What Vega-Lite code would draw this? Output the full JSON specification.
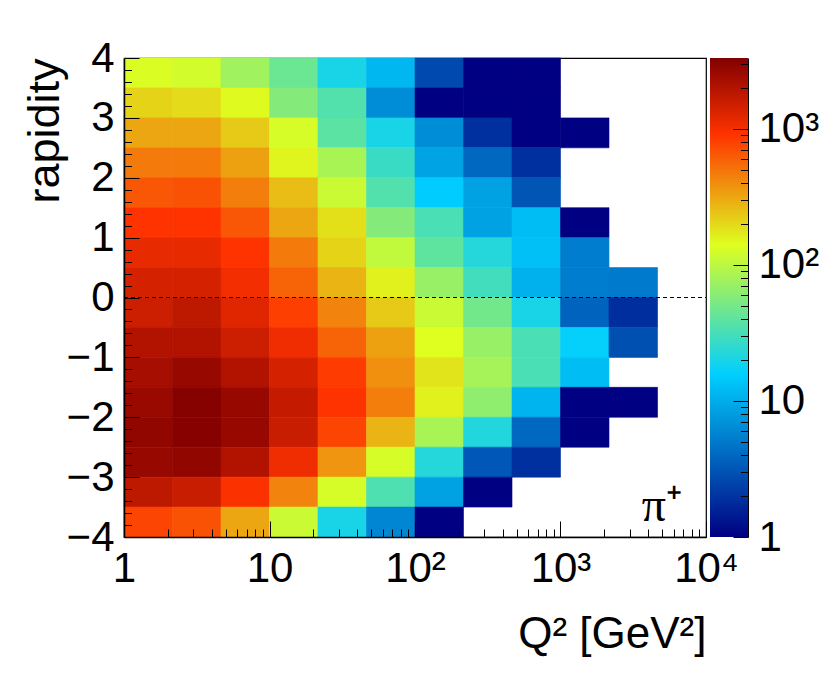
{
  "$schema": "https://vega.github.io/schema/vega-lite/v6.json",
  "background": "white",
  "autosize": "none",
  "padding": {"left": 124, "top": 58, "right": 706, "bottom": 630},
  "bounds": "flush",
  "spacing": 4,
  "config": {
    "font": "Liberation Sans",
    "axis": {"grid": false, "labelFontSize": 42, "titleFontWeight": "normal", "labelColor": "black", "titleColor": "black", "tickColor": "black", "domainColor": "black", "labelBound": false, "labelFlush": false}
  },
  "datasets": {
    "cells": [
      {"x0":1,"x1":2.154,"y0":3.5,"y1":4,"v":135},{"x0":2.154,"x1":4.642,"y0":3.5,"y1":4,"v":124},{"x0":4.642,"x1":10,"y0":3.5,"y1":4,"v":76},{"x0":10,"x1":21.54,"y0":3.5,"y1":4,"v":45},{"x0":21.54,"x1":46.42,"y0":3.5,"y1":4,"v":20},{"x0":46.42,"x1":100,"y0":3.5,"y1":4,"v":11.4},{"x0":100,"x1":215.4,"y0":3.5,"y1":4,"v":2.65},{"x0":215.4,"x1":464.2,"y0":3.5,"y1":4,"v":1},{"x0":464.2,"x1":1000,"y0":3.5,"y1":4,"v":1},
      {"x0":1,"x1":2.154,"y0":3,"y1":3.5,"v":210},{"x0":2.154,"x1":4.642,"y0":3,"y1":3.5,"v":194},{"x0":4.642,"x1":10,"y0":3,"y1":3.5,"v":146},{"x0":10,"x1":21.54,"y0":3,"y1":3.5,"v":57.5},{"x0":21.54,"x1":46.42,"y0":3,"y1":3.5,"v":35.4},{"x0":46.42,"x1":100,"y0":3,"y1":3.5,"v":6.5},{"x0":100,"x1":215.4,"y0":3,"y1":3.5,"v":1},{"x0":215.4,"x1":464.2,"y0":3,"y1":3.5,"v":1},{"x0":464.2,"x1":1000,"y0":3,"y1":3.5,"v":1},
      {"x0":1,"x1":2.154,"y0":2.5,"y1":3,"v":316},{"x0":2.154,"x1":4.642,"y0":2.5,"y1":3,"v":316},{"x0":4.642,"x1":10,"y0":2.5,"y1":3,"v":228},{"x0":10,"x1":21.54,"y0":2.5,"y1":3,"v":130},{"x0":21.54,"x1":46.42,"y0":2.5,"y1":3,"v":38.4},{"x0":46.42,"x1":100,"y0":2.5,"y1":3,"v":20},{"x0":100,"x1":215.4,"y0":2.5,"y1":3,"v":6.5},{"x0":215.4,"x1":464.2,"y0":2.5,"y1":3,"v":1.9},{"x0":464.2,"x1":1000,"y0":2.5,"y1":3,"v":1},{"x0":1000,"x1":2154,"y0":2.5,"y1":3,"v":1},
      {"x0":1,"x1":2.154,"y0":2,"y1":2.5,"v":474},{"x0":2.154,"x1":4.642,"y0":2,"y1":2.5,"v":474},{"x0":4.642,"x1":10,"y0":2,"y1":2.5,"v":330},{"x0":10,"x1":21.54,"y0":2,"y1":2.5,"v":153},{"x0":21.54,"x1":46.42,"y0":2,"y1":2.5,"v":83},{"x0":46.42,"x1":100,"y0":2,"y1":2.5,"v":27.7},{"x0":100,"x1":215.4,"y0":2,"y1":2.5,"v":8.9},{"x0":215.4,"x1":464.2,"y0":2,"y1":2.5,"v":4},{"x0":464.2,"x1":1000,"y0":2,"y1":2.5,"v":1.9},
      {"x0":1,"x1":2.154,"y0":1.5,"y1":2,"v":655},{"x0":2.154,"x1":4.642,"y0":1.5,"y1":2,"v":680},{"x0":4.642,"x1":10,"y0":1.5,"y1":2,"v":455},{"x0":10,"x1":21.54,"y0":1.5,"y1":2,"v":257},{"x0":21.54,"x1":46.42,"y0":1.5,"y1":2,"v":114},{"x0":46.42,"x1":100,"y0":1.5,"y1":2,"v":35.4},{"x0":100,"x1":215.4,"y0":1.5,"y1":2,"v":15},{"x0":215.4,"x1":464.2,"y0":1.5,"y1":2,"v":8.6},{"x0":464.2,"x1":1000,"y0":1.5,"y1":2,"v":3.1},
      {"x0":1,"x1":2.154,"y0":1,"y1":1.5,"v":904},{"x0":2.154,"x1":4.642,"y0":1,"y1":1.5,"v":904},{"x0":4.642,"x1":10,"y0":1,"y1":1.5,"v":655},{"x0":10,"x1":21.54,"y0":1,"y1":1.5,"v":316},{"x0":21.54,"x1":46.42,"y0":1,"y1":1.5,"v":186},{"x0":46.42,"x1":100,"y0":1,"y1":1.5,"v":57.5},{"x0":100,"x1":215.4,"y0":1,"y1":1.5,"v":32.6},{"x0":215.4,"x1":464.2,"y0":1,"y1":1.5,"v":8.6},{"x0":464.2,"x1":1000,"y0":1,"y1":1.5,"v":12.3},{"x0":1000,"x1":2154,"y0":1,"y1":1.5,"v":1},
      {"x0":1,"x1":2.154,"y0":0.5,"y1":1,"v":1150},{"x0":2.154,"x1":4.642,"y0":0.5,"y1":1,"v":1150},{"x0":4.642,"x1":10,"y0":0.5,"y1":1,"v":904},{"x0":10,"x1":21.54,"y0":0.5,"y1":1,"v":474},{"x0":21.54,"x1":46.42,"y0":0.5,"y1":1,"v":210},{"x0":46.42,"x1":100,"y0":0.5,"y1":1,"v":105},{"x0":100,"x1":215.4,"y0":0.5,"y1":1,"v":40},{"x0":215.4,"x1":464.2,"y0":0.5,"y1":1,"v":22.6},{"x0":464.2,"x1":1000,"y0":0.5,"y1":1,"v":12.8},{"x0":1000,"x1":2154,"y0":0.5,"y1":1,"v":5.3},
      {"x0":1,"x1":2.154,"y0":0,"y1":0.5,"v":1410},{"x0":2.154,"x1":4.642,"y0":0,"y1":0.5,"v":1410},{"x0":4.642,"x1":10,"y0":0,"y1":0.5,"v":1020},{"x0":10,"x1":21.54,"y0":0,"y1":0.5,"v":580},{"x0":21.54,"x1":46.42,"y0":0,"y1":0.5,"v":279},{"x0":46.42,"x1":100,"y0":0,"y1":0.5,"v":159},{"x0":100,"x1":215.4,"y0":0,"y1":0.5,"v":70},{"x0":215.4,"x1":464.2,"y0":0,"y1":0.5,"v":30},{"x0":464.2,"x1":1000,"y0":0,"y1":0.5,"v":10.5},{"x0":1000,"x1":2154,"y0":0,"y1":0.5,"v":5.3},{"x0":2154,"x1":4642,"y0":0,"y1":0.5,"v":5.05},
      {"x0":1,"x1":2.154,"y0":-0.5,"y1":0,"v":1530},{"x0":2.154,"x1":4.642,"y0":-0.5,"y1":0,"v":1800},{"x0":4.642,"x1":10,"y0":-0.5,"y1":0,"v":1250},{"x0":10,"x1":21.54,"y0":-0.5,"y1":0,"v":800},{"x0":21.54,"x1":46.42,"y0":-0.5,"y1":0,"v":437},{"x0":46.42,"x1":100,"y0":-0.5,"y1":0,"v":228},{"x0":100,"x1":215.4,"y0":-0.5,"y1":0,"v":114},{"x0":215.4,"x1":464.2,"y0":-0.5,"y1":0,"v":49},{"x0":464.2,"x1":1000,"y0":-0.5,"y1":0,"v":20},{"x0":1000,"x1":2154,"y0":-0.5,"y1":0,"v":3.8},{"x0":2154,"x1":4642,"y0":-0.5,"y1":0,"v":1.84},
      {"x0":1,"x1":2.154,"y0":-1,"y1":-0.5,"v":2035},{"x0":2.154,"x1":4.642,"y0":-1,"y1":-0.5,"v":2035},{"x0":4.642,"x1":10,"y0":-1,"y1":-0.5,"v":1530},{"x0":10,"x1":21.54,"y0":-1,"y1":-0.5,"v":1065},{"x0":21.54,"x1":46.42,"y0":-1,"y1":-0.5,"v":580},{"x0":46.42,"x1":100,"y0":-1,"y1":-0.5,"v":330},{"x0":100,"x1":215.4,"y0":-1,"y1":-0.5,"v":140},{"x0":215.4,"x1":464.2,"y0":-1,"y1":-0.5,"v":70},{"x0":464.2,"x1":1000,"y0":-1,"y1":-0.5,"v":32.6},{"x0":1000,"x1":2154,"y0":-1,"y1":-0.5,"v":16.4},{"x0":2154,"x1":4642,"y0":-1,"y1":-0.5,"v":2.9},
      {"x0":1,"x1":2.154,"y0":-1.5,"y1":-1,"v":2300},{"x0":2.154,"x1":4.642,"y0":-1.5,"y1":-1,"v":2700},{"x0":4.642,"x1":10,"y0":-1.5,"y1":-1,"v":2035},{"x0":10,"x1":21.54,"y0":-1.5,"y1":-1,"v":1410},{"x0":21.54,"x1":46.42,"y0":-1.5,"y1":-1,"v":835},{"x0":46.42,"x1":100,"y0":-1.5,"y1":-1,"v":385},{"x0":100,"x1":215.4,"y0":-1.5,"y1":-1,"v":179},{"x0":215.4,"x1":464.2,"y0":-1.5,"y1":-1,"v":80},{"x0":464.2,"x1":1000,"y0":-1.5,"y1":-1,"v":32.6},{"x0":1000,"x1":2154,"y0":-1.5,"y1":-1,"v":12.3},
      {"x0":1,"x1":2.154,"y0":-2,"y1":-1.5,"v":2600},{"x0":2.154,"x1":4.642,"y0":-2,"y1":-1.5,"v":3180},{"x0":4.642,"x1":10,"y0":-2,"y1":-1.5,"v":2700},{"x0":10,"x1":21.54,"y0":-2,"y1":-1.5,"v":1660},{"x0":21.54,"x1":46.42,"y0":-2,"y1":-1.5,"v":904},{"x0":46.42,"x1":100,"y0":-2,"y1":-1.5,"v":455},{"x0":100,"x1":215.4,"y0":-2,"y1":-1.5,"v":159},{"x0":215.4,"x1":464.2,"y0":-2,"y1":-1.5,"v":65},{"x0":464.2,"x1":1000,"y0":-2,"y1":-1.5,"v":11},{"x0":1000,"x1":2154,"y0":-2,"y1":-1.5,"v":1},{"x0":2154,"x1":4642,"y0":-2,"y1":-1.5,"v":1},
      {"x0":1,"x1":2.154,"y0":-2.5,"y1":-2,"v":2815},{"x0":2.154,"x1":4.642,"y0":-2.5,"y1":-2,"v":3180},{"x0":4.642,"x1":10,"y0":-2.5,"y1":-2,"v":2700},{"x0":10,"x1":21.54,"y0":-2.5,"y1":-2,"v":1600},{"x0":21.54,"x1":46.42,"y0":-2.5,"y1":-2,"v":770},{"x0":46.42,"x1":100,"y0":-2.5,"y1":-2,"v":279},{"x0":100,"x1":215.4,"y0":-2.5,"y1":-2,"v":83},{"x0":215.4,"x1":464.2,"y0":-2.5,"y1":-2,"v":21.8},{"x0":464.2,"x1":1000,"y0":-2.5,"y1":-2,"v":4},{"x0":1000,"x1":2154,"y0":-2.5,"y1":-2,"v":1},
      {"x0":1,"x1":2.154,"y0":-3,"y1":-2.5,"v":2700},{"x0":2.154,"x1":4.642,"y0":-3,"y1":-2.5,"v":2815},{"x0":4.642,"x1":10,"y0":-3,"y1":-2.5,"v":2035},{"x0":10,"x1":21.54,"y0":-3,"y1":-2.5,"v":1065},{"x0":21.54,"x1":46.42,"y0":-3,"y1":-2.5,"v":370},{"x0":46.42,"x1":100,"y0":-3,"y1":-2.5,"v":130},{"x0":100,"x1":215.4,"y0":-3,"y1":-2.5,"v":22.6},{"x0":215.4,"x1":464.2,"y0":-3,"y1":-2.5,"v":3.2},{"x0":464.2,"x1":1000,"y0":-3,"y1":-2.5,"v":1.9},
      {"x0":1,"x1":2.154,"y0":-3.5,"y1":-3,"v":1800},{"x0":2.154,"x1":4.642,"y0":-3.5,"y1":-3,"v":1600},{"x0":4.642,"x1":10,"y0":-3.5,"y1":-3,"v":940},{"x0":10,"x1":21.54,"y0":-3.5,"y1":-3,"v":437},{"x0":21.54,"x1":46.42,"y0":-3.5,"y1":-3,"v":130},{"x0":46.42,"x1":100,"y0":-3.5,"y1":-3,"v":34},{"x0":100,"x1":215.4,"y0":-3.5,"y1":-3,"v":8.6},{"x0":215.4,"x1":464.2,"y0":-3.5,"y1":-3,"v":1},
      {"x0":1,"x1":2.154,"y0":-4,"y1":-3.5,"v":770},{"x0":2.154,"x1":4.642,"y0":-4,"y1":-3.5,"v":680},{"x0":4.642,"x1":10,"y0":-4,"y1":-3.5,"v":316},{"x0":10,"x1":21.54,"y0":-4,"y1":-3.5,"v":114},{"x0":21.54,"x1":46.42,"y0":-4,"y1":-3.5,"v":20},{"x0":46.42,"x1":100,"y0":-4,"y1":-3.5,"v":5.95},{"x0":100,"x1":215.4,"y0":-4,"y1":-3.5,"v":1}
    ]
  },
  "hconcat": [
    {
      "width": 582,
      "height": 479,
      "view": {"stroke": "black", "strokeWidth": 1.2},
      "layer": [
        {
          "data": {"name": "cells"},
          "mark": {"type": "rect", "strokeWidth": 0.6},
          "encoding": {
            "x": {
              "field": "x0",
              "type": "quantitative",
              "scale": {"type": "log", "domain": [1, 10000], "nice": false},
              "axis": {
                "title": "Q² [GeV²]",
                "titleFontSize": 44,
                "titleAnchor": "end",
                "titleAlign": "right",
                "titleX": 582,
                "titleY": 75,
                "values": [1,2,3,4,5,6,7,8,9,10,20,30,40,50,60,70,80,90,100,200,300,400,500,600,700,800,900,1000,2000,3000,4000,5000,6000,7000,8000,9000,10000],
                "tickCount": 100,
                "labelExpr": "datum.value==1?'1':datum.value==10?'10':datum.value==100?'10²':datum.value==1000?'10³':datum.value==10000?'10⁴':''",
                "labelOverlap": false,
                "zindex": 1,
                "tickSize": {"condition": {"test": "indexof([1,10,100,1000,10000],datum.value)>=0", "value": -16}, "value": -8},
                "tickWidth": 1,
                "labelPadding": 27,
                "domainWidth": 1.5
              }
            },
            "x2": {"field": "x1"},
            "y": {
              "field": "y0",
              "type": "quantitative",
              "scale": {"domain": [-4, 4], "nice": false},
              "axis": {
                "title": "rapidity",
                "titleFontSize": 45,
                "titleAnchor": "end",
                "titleAlign": "right",
                "titleAngle": -90,
                "titleX": -57,
                "titleY": 0,
                "values": [-4,-3.8,-3.6,-3.4,-3.2,-3,-2.8,-2.6,-2.4,-2.2,-2,-1.8,-1.6,-1.4,-1.2,-1,-0.8,-0.6,-0.4,-0.2,0,0.2,0.4,0.6,0.8,1,1.2,1.4,1.6,1.8,2,2.2,2.4,2.6,2.8,3,3.2,3.4,3.6,3.8,4],
                "tickCount": 100,
                "labelExpr": "datum.value%1==0?format(datum.value,'d'):''",
                "labelOverlap": false,
                "zindex": 1,
                "tickSize": {"condition": {"test": "datum.value%1==0", "value": -15}, "value": -7.5},
                "tickWidth": 1,
                "labelPadding": 25,
                "domainWidth": 1.5
              }
            },
            "y2": {"field": "y1"},
            "color": {
              "field": "v",
              "type": "quantitative",
              "scale": {"type": "log", "domain": [1, 15.7, 140, 904, 3311], "range": ["#000082", "#00cfff", "#deff1f", "#ff3300", "#820000"], "interpolate": "rgb"},
              "legend": null
            },
            "stroke": {
              "field": "v",
              "type": "quantitative",
              "scale": {"type": "log", "domain": [1, 15.7, 140, 904, 3311], "range": ["#000082", "#00cfff", "#deff1f", "#ff3300", "#820000"], "interpolate": "rgb"},
              "legend": null
            }
          }
        },
        {
          "data": {"values": [{"a": 1, "b": 10000, "y": 0}]},
          "mark": {"type": "rule", "color": "black", "strokeWidth": 1, "strokeDash": [4, 3]},
          "encoding": {
            "x": {"field": "a", "type": "quantitative"},
            "x2": {"field": "b"},
            "y": {"field": "y", "type": "quantitative"}
          }
        },
        {
          "data": {"values": [{"x": 6840, "y": -3.5, "t": "π⁺"}]},
          "mark": {"type": "text", "font": "Liberation Serif", "fontSize": 48, "align": "right", "baseline": "middle", "color": "black"},
          "encoding": {
            "x": {"field": "x", "type": "quantitative"},
            "y": {"field": "y", "type": "quantitative"},
            "text": {"field": "t"}
          }
        }
      ]
    },
    {
      "width": 38,
      "height": 479,
      "view": {"stroke": null},
      "data": {"values": [{"lo": 1, "hi": 3311}]},
      "mark": {
        "type": "rect",
        "color": {
          "gradient": "linear",
          "x1": 0, "y1": 1, "x2": 0, "y2": 0,
          "stops": [
            {"offset": 0, "color": "#000082"},
            {"offset": 0.34, "color": "#00cfff"},
            {"offset": 0.61, "color": "#deff1f"},
            {"offset": 0.84, "color": "#ff3300"},
            {"offset": 1, "color": "#820000"}
          ]
        }
      },
      "encoding": {
        "y": {
          "field": "lo",
          "type": "quantitative",
          "scale": {"type": "log", "domain": [1, 3311], "nice": false},
          "axis": {
            "orient": "right",
            "title": null,
            "values": [1,2,3,4,5,6,7,8,9,10,20,30,40,50,60,70,80,90,100,200,300,400,500,600,700,800,900,1000,2000,3000],
            "tickCount": 100,
            "labelExpr": "datum.value==1?'1':datum.value==10?'10':datum.value==100?'10²':datum.value==1000?'10³':''",
            "labelOverlap": false,
            "zindex": 1,
            "tickSize": {"condition": {"test": "indexof([1,10,100,1000],datum.value)>=0", "value": -15}, "value": -7.5},
            "tickWidth": 1,
            "labelPadding": 25,
            "domainWidth": 1
          }
        },
        "y2": {"field": "hi"}
      }
    }
  ]
}
